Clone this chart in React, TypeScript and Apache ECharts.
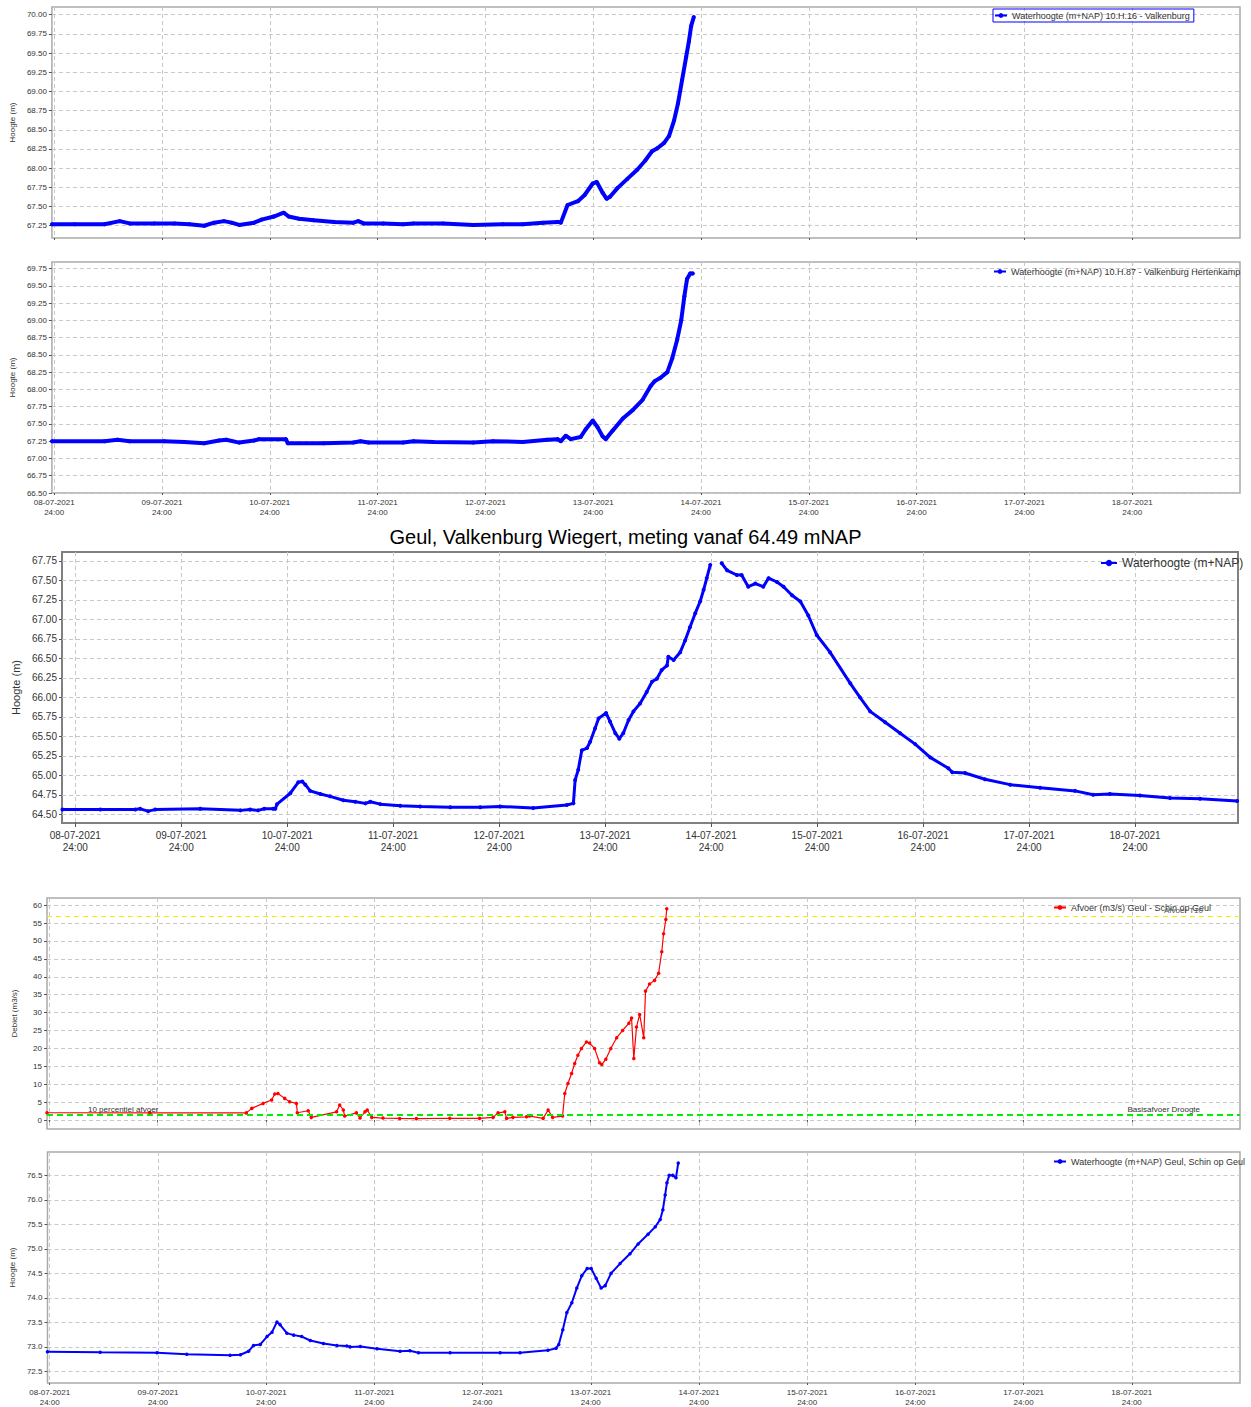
import React, { useEffect, useRef } from "react";
import * as echarts from "echarts";

// ---- shared axis data (hours counted from 08-07-2021 00:00) ----
const xTicks = [24, 48, 72, 96, 120, 144, 168, 192, 216, 240, 264];
const dayLabels = [
  "08-07-2021", "09-07-2021", "10-07-2021", "11-07-2021", "12-07-2021", "13-07-2021",
  "14-07-2021", "15-07-2021", "16-07-2021", "17-07-2021", "18-07-2021",
];
const timeLabel = "24:00";

// ---- titles / names ----
const mainTitle = "Geul, Valkenburg Wiegert, meting vanaf 64.49 mNAP";
const name1 = "Waterhoogte (m+NAP) 10.H.16 - Valkenburg";
const name2 = "Waterhoogte (m+NAP) 10.H.87 - Valkenburg Hertenkamp";
const name3 = "Waterhoogte (m+NAP)";
const name4 = "Afvoer (m3/s) Geul - Schin op Geul";
const name5 = "Waterhoogte (m+NAP) Geul, Schin op Geul";
const heightAxisName = "Hoogte (m)";
const flowAxisName = "Debiet (m3/s)";

// ---- y tick values ----
const p1YTicks = [67.25, 67.5, 67.75, 68.0, 68.25, 68.5, 68.75, 69.0, 69.25, 69.5, 69.75, 70.0];
const p2YTicks = [66.5, 66.75, 67.0, 67.25, 67.5, 67.75, 68.0, 68.25, 68.5, 68.75, 69.0, 69.25, 69.5, 69.75];
const p3YTicks = [64.5, 64.75, 65.0, 65.25, 65.5, 65.75, 66.0, 66.25, 66.5, 66.75, 67.0, 67.25, 67.5, 67.75];
const p4YTicks = [0, 5, 10, 15, 20, 25, 30, 35, 40, 45, 50, 55, 60];
const p5YTicks = [72.5, 73.0, 73.5, 74.0, 74.5, 75.0, 75.5, 76.0, 76.5];

// ---- reference lines (panel 4) ----
const t10Value = 57;
const t10Label = "Afvoer T10";
const baseFlowValue = 1.6;
const baseFlowLabelLeft = "10 percentiel afvoer";
const baseFlowLabelRight = "Basisafvoer Droogte";

// ---- series: [hour, value] ----
const s1 = [
  [23.5, 67.27], [28.6, 67.27], [35.2, 67.27], [38.6, 67.31], [40.8, 67.28], [46.3, 67.28],
  [50.8, 67.28], [54.1, 67.27], [57.4, 67.25], [59.6, 67.29], [61.8, 67.31], [63.5, 67.29],
  [65.2, 67.26], [68.5, 67.29], [70.2, 67.33], [72.9, 67.37], [75.1, 67.42], [76.2, 67.37],
  [78.5, 67.34], [81.8, 67.32], [86.3, 67.3], [90.6, 67.29], [91.7, 67.31], [92.9, 67.28],
  [97.3, 67.28], [101.7, 67.27], [104, 67.28], [110.6, 67.28], [117.3, 67.26], [123.9, 67.27],
  [128.3, 67.27], [132.8, 67.29], [136.1, 67.3], [136.8, 67.29], [138.3, 67.52], [140.6, 67.57],
  [142.1, 67.65], [143.9, 67.8], [144.8, 67.82], [146.1, 67.68], [147.0, 67.6], [147.8, 67.63],
  [149.4, 67.74], [151.6, 67.86], [153.8, 67.98], [155.6, 68.1], [157.1, 68.22], [158.3, 68.26],
  [159.8, 68.33], [160.9, 68.42], [162.0, 68.62], [162.9, 68.85], [163.8, 69.15], [164.7, 69.45],
  [165.3, 69.65], [165.8, 69.85], [166.4, 69.97],
];

const s2 = [
  [23.5, 67.25], [35.2, 67.25], [38.1, 67.27], [40.8, 67.25], [48.5, 67.25], [53, 67.24],
  [57.4, 67.22], [60.7, 67.26], [62.3, 67.27], [65.2, 67.23], [68.5, 67.26], [69.6, 67.28],
  [75.6, 67.28], [76.0, 67.22], [84, 67.22], [90.6, 67.23], [92.2, 67.25], [94, 67.23],
  [101.7, 67.23], [104, 67.25], [108.4, 67.24], [117.3, 67.23], [121.7, 67.25], [128.3, 67.24],
  [133.8, 67.27], [136.1, 67.28], [136.8, 67.25], [137.9, 67.33], [139, 67.28], [141.2, 67.31],
  [142.3, 67.42], [143.9, 67.55], [145, 67.45], [146.1, 67.32], [146.8, 67.28], [148.3, 67.4],
  [150.6, 67.58], [152.8, 67.7], [155, 67.85], [156.8, 68.05], [157.7, 68.12], [159, 68.17],
  [160.5, 68.25], [161.6, 68.45], [162.7, 68.72], [163.6, 69.0], [164.3, 69.35], [164.9, 69.6],
  [165.6, 69.68], [166.2, 69.68],
];

const s3 = [
  [21.1, 64.56], [29.7, 64.56], [37.6, 64.56], [38.7, 64.57], [40.5, 64.54], [42.1, 64.56],
  [52.3, 64.57], [61.4, 64.55], [63.6, 64.56], [65.4, 64.55], [66.8, 64.57], [68.8, 64.57],
  [69.3, 64.57], [69.7, 64.63], [72.7, 64.77], [74.5, 64.91], [75.4, 64.92], [76.1, 64.88],
  [77.2, 64.8], [79.5, 64.76], [81.7, 64.73], [84.7, 64.68], [87.4, 64.66], [89.7, 64.64],
  [90.8, 64.66], [93.1, 64.63], [97.6, 64.61], [102.1, 64.6], [108.9, 64.59], [115.7, 64.59],
  [120.2, 64.6], [127.7, 64.58], [135.3, 64.62], [136.8, 64.64], [137.2, 64.94], [137.9, 65.07],
  [138.7, 65.32], [139.9, 65.35], [140.6, 65.43], [141.7, 65.6], [142.5, 65.73], [144.2, 65.8],
  [145.1, 65.69], [146.3, 65.54], [147.2, 65.47], [148.1, 65.54], [149.3, 65.71], [150.4, 65.82],
  [151.9, 65.92], [153.4, 66.07], [154.6, 66.2], [155.7, 66.24], [156.8, 66.35], [158, 66.41],
  [158.3, 66.52], [159.5, 66.48], [161, 66.58], [162.1, 66.73], [163.2, 66.9], [164.4, 67.08],
  [165.5, 67.23], [166.3, 67.38], [167, 67.53], [167.8, 67.7], [169, null],
  [170.4, 67.72], [171.6, 67.63], [173.8, 67.57], [174.9, 67.57], [176.4, 67.42], [178, 67.46],
  [179.8, 67.42], [181, 67.53], [182.9, 67.48], [184.4, 67.42], [186.3, 67.31], [188.2, 67.23],
  [190, 67.05], [191.9, 66.8], [194.9, 66.58], [199.5, 66.18], [201.7, 66.0], [204, 65.82],
  [207.4, 65.68], [210.8, 65.54], [214.2, 65.4], [217.6, 65.23], [221.7, 65.09], [222.6, 65.04],
  [225.5, 65.03], [230, 64.95], [235.7, 64.88], [242.5, 64.84], [250.4, 64.8], [254.5, 64.75],
  [258.3, 64.76], [265.1, 64.74], [271.9, 64.71], [278.7, 64.7], [287.1, 64.67],
];

const s4 = [
  [23.5, 2.04], [46.3, 2.0], [67.7, 2.0], [68.9, 3.26], [71.4, 4.65], [73.3, 5.6], [74, 7.25],
  [74.7, 7.4], [76.2, 6.05], [77.3, 5.1], [78.8, 4.65], [79, 2.04], [81.4, 2.6], [82.1, 0.75],
  [87.7, 2.3], [88.4, 4.2], [89.2, 2.8], [89.5, 1.1], [92.1, 2.0], [92.9, 0.56], [94, 2.3],
  [94.5, 2.8], [95.5, 0.75], [98, 0.56], [101.7, 0.45], [105.4, 0.4], [112.8, 0.5],
  [119.4, 0.47], [122.4, 0.75], [123.5, 2.0], [125, 2.3], [125.4, 0.47], [126.8, 0.75],
  [129.8, 0.9], [130.5, 1.1], [133.5, 0.47], [134.6, 2.8], [135.6, 0.75], [137.8, 1.1],
  [138.3, 7.4], [139, 10.2], [139.8, 13], [140.5, 15.8], [141.2, 18.1], [142, 20], [143.1, 21.8],
  [143.8, 21.5], [144.9, 20], [146, 16], [146.5, 15.5], [147.4, 17], [148.5, 20], [149.8, 23],
  [151.1, 25], [152.5, 27], [153.1, 28.5], [153.6, 17.2], [154.2, 26], [154.9, 29.5],
  [155.8, 23], [156.2, 36], [157.1, 38], [158.2, 39], [159.1, 41], [159.8, 47], [160.2, 52],
  [160.7, 56], [160.9, 59],
];

const s5 = [
  [23.5, 72.9], [35.2, 72.89], [47.8, 72.88], [54.4, 72.85], [64, 72.83], [66.3, 72.84],
  [68.1, 72.91], [69.2, 73.03], [70.7, 73.05], [72.2, 73.21], [73.3, 73.3], [74.4, 73.51],
  [75.1, 73.45], [76.6, 73.28], [78.1, 73.24], [79.9, 73.21], [81.8, 73.13], [84.7, 73.07],
  [87.7, 73.03], [89.9, 73.02], [90.6, 73.0], [92.9, 73.01], [96.6, 72.96], [101.7, 72.91],
  [103.9, 72.92], [105.8, 72.88], [112.8, 72.88], [123.9, 72.88], [128.3, 72.88], [134.5, 72.93],
  [136.3, 72.97], [136.9, 73.05], [137.8, 73.35], [138.7, 73.7], [139.8, 73.9], [140.9, 74.2],
  [142, 74.45], [143.2, 74.6], [144.1, 74.6], [145.2, 74.4], [146.3, 74.2], [147.2, 74.25],
  [148.5, 74.5], [150.5, 74.7], [152.7, 74.9], [154.5, 75.1], [156.7, 75.3], [158.3, 75.45],
  [159.4, 75.6], [160, 75.8], [160.5, 76.1], [160.9, 76.35], [161.4, 76.5], [162.2, 76.5],
  [162.9, 76.45], [163.4, 76.75],
];

const FONT = "'Liberation Sans', Arial, sans-serif";
const TXT = "#333333";
const GRIDLINE = { type: [4, 3] as any, color: "#c8c8c8", width: 1 };

function xAxis(gridIndex: number, min: number, max: number, showLabels: boolean, fontSize: number, tickLen: number, margin: number) {
  return {
    type: "value",
    gridIndex,
    min,
    max,
    axisLine: { show: false },
    axisTick: { show: true, customValues: xTicks, length: tickLen, lineStyle: { color: "#555" } },
    axisLabel: {
      show: showLabels,
      customValues: xTicks,
      fontSize,
      fontFamily: FONT,
      color: TXT,
      lineHeight: Math.round(fontSize * 1.2),
      margin,
      formatter: (v: number) => {
        const i = Math.round(v / 24) - 1;
        return (dayLabels[i] || "") + "\n" + timeLabel;
      },
    },
    splitLine: { show: true, lineStyle: GRIDLINE },
  };
}

function yAxis(
  gridIndex: number, min: number, max: number, ticks: number[], decimals: number,
  fontSize: number, name: string, nameGap: number, nameSize: number
) {
  return {
    type: "value",
    gridIndex,
    min,
    max,
    name,
    nameLocation: "middle",
    nameGap,
    nameTextStyle: { fontSize: nameSize, fontFamily: FONT, color: TXT },
    axisLine: { show: false },
    axisTick: { show: true, customValues: ticks, length: 3, lineStyle: { color: "#555" } },
    axisLabel: {
      customValues: ticks,
      fontSize,
      fontFamily: FONT,
      color: TXT,
      margin: 5,
      formatter: (v: number) => v.toFixed(decimals),
    },
    splitLine: { show: true, lineStyle: GRIDLINE },
  };
}

function lineSeries(name: string, idx: number, data: any[], color: string, width: number, sym: number) {
  return {
    type: "line",
    name,
    xAxisIndex: idx,
    yAxisIndex: idx,
    data,
    symbol: "circle",
    symbolSize: sym,
    showSymbol: true,
    connectNulls: false,
    lineStyle: { color, width },
    itemStyle: { color },
    emphasis: { disabled: true },
  };
}

export default function App() {
  const ref = useRef<HTMLDivElement>(null);

  useEffect(() => {
    document.body.style.margin = "0";
    if (!ref.current) return;
    const chart = echarts.init(ref.current, undefined, { renderer: "svg" });

    const grids = [
      { left: 47, top: 7, width: 1193, height: 231 },
      { left: 47, top: 262, width: 1193, height: 231 },
      { left: 62, top: 552, width: 1176, height: 271 },
      { left: 47, top: 898, width: 1193, height: 231 },
      { left: 47, top: 1152, width: 1193, height: 231 },
    ].map((g, i) => ({
      ...g,
      show: true,
      backgroundColor: "#ffffff",
      borderColor: i === 2 ? "#808080" : "#aaaaaa",
      borderWidth: i === 2 ? 2 : 1.5,
      containLabel: false,
    }));

    const legendBase = {
      orient: "horizontal",
      itemWidth: 12,
      itemHeight: 6,
      itemGap: 4,
      textStyle: { fontSize: 9, fontFamily: FONT, color: TXT },
      padding: 2,
    };

    const option: any = {
      animation: false,
      backgroundColor: "#ffffff",
      title: {
        text: mainTitle,
        left: "center",
        top: 522,
        textStyle: { fontSize: 20, fontWeight: "normal", fontFamily: FONT, color: "#000" },
      },
      grid: grids,
      legend: [
        { ...legendBase, data: [name1], left: 993, top: 9, borderColor: "#0000ff", borderWidth: 1, padding: [2, 4, 2, 1] },
        { ...legendBase, data: [name2], left: 991, top: 265 },
        { ...legendBase, data: [name3], left: 1098, top: 555, itemWidth: 16, itemHeight: 8, textStyle: { fontSize: 12, fontFamily: FONT, color: TXT } },
        { ...legendBase, data: [name4], left: 1051, top: 901 },
        { ...legendBase, data: [name5], left: 1051, top: 1155 },
      ],
      xAxis: [
        xAxis(0, 23.5, 288, false, 8, 2, 4),
        xAxis(1, 23.5, 288, true, 8, 2, 4),
        xAxis(2, 21, 287.3, true, 10, 4, 6),
        xAxis(3, 23.5, 288, false, 8, 2, 4),
        xAxis(4, 23.5, 288, true, 8, 2, 4),
      ],
      yAxis: [
        yAxis(0, 67.09, 70.1, p1YTicks, 2, 8, heightAxisName, 29, 8),
        yAxis(1, 66.5, 69.845, p2YTicks, 2, 8, heightAxisName, 29, 8),
        yAxis(2, 64.388, 67.865, p3YTicks, 2, 10, heightAxisName, 34, 11),
        yAxis(3, -2.5, 62, p4YTicks, 0, 8, flowAxisName, 29, 8),
        yAxis(4, 72.263, 76.977, p5YTicks, 1, 8, heightAxisName, 29, 8),
      ],
      series: [
        lineSeries(name1, 0, s1, "#0000ff", 4, 4),
        lineSeries(name2, 1, s2, "#0000ff", 4, 4),
        lineSeries(name3, 2, s3, "#0000ff", 3, 4),
        {
          ...lineSeries(name4, 3, s4, "#ff0000", 1.2, 3.5),
          markLine: {
            silent: true,
            symbol: "none",
            animation: false,
            data: [
              {
                yAxis: t10Value,
                lineStyle: { color: "#f0f000", type: [5, 4], width: 1 },
                label: { show: true, formatter: t10Label, position: "insideEndTop", distance: [37, 1], fontSize: 8, fontFamily: FONT, color: "#555" },
              },
              {
                yAxis: baseFlowValue,
                lineStyle: { color: "#00ee00", type: [6, 4], width: 2 },
                label: { show: true, formatter: baseFlowLabelLeft, position: "insideStartTop", distance: [41, 1], fontSize: 8, fontFamily: FONT, color: "#333" },
              },
              {
                yAxis: baseFlowValue,
                lineStyle: { color: "#00ee00", type: [6, 4], width: 2 },
                label: { show: true, formatter: baseFlowLabelRight, position: "insideEndTop", distance: [40, 1], fontSize: 8, fontFamily: FONT, color: "#333" },
              },
            ],
          },
        },
        lineSeries(name5, 4, s5, "#0000ff", 2, 3.5),
      ],
    };

    chart.setOption(option);
    return () => {
      chart.dispose();
    };
  }, []);

  return <div ref={ref} style={{ width: 1251, height: 1407 }} />;
}
